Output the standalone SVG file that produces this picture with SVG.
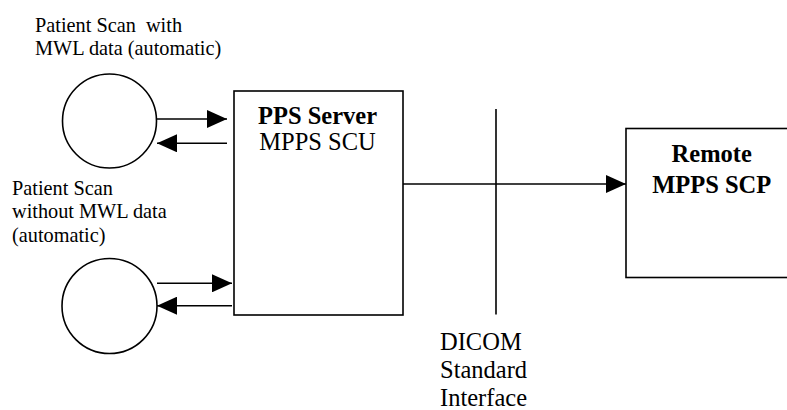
<svg xmlns="http://www.w3.org/2000/svg" width="787" height="410" viewBox="0 0 787 410">
<defs>
<style>
text{font-family:"Liberation Serif","DejaVu Serif","Times New Roman",serif;fill:#000}
.s{font-size:20.3px}
.m{font-size:24.5px}
.b{font-weight:bold}
.shape{fill:#fff;stroke:#000;stroke-width:1.6}
.ln{fill:none;stroke:#000;stroke-width:1.6}
</style>
<marker id="ah" markerUnits="userSpaceOnUse" markerWidth="20" markerHeight="18" refX="20" refY="9" orient="auto">
<path d="M0,0 L20,9 L0,18 z" fill="#000"/>
</marker>
</defs>
<rect width="787" height="410" fill="#fff"/>
<g id="scan-with-mwl">
<circle class="shape" cx="109.5" cy="121" r="47"/>
<text class="s" x="35" y="31.7" xml:space="preserve">Patient Scan  with</text>
<text class="s" x="35" y="55">MWL data (automatic)</text>
</g>
<g id="scan-without-mwl">
<circle class="shape" cx="109.5" cy="306" r="47.5"/>
<text class="s" x="12" y="195">Patient Scan</text>
<text class="s" x="12" y="218.3">without MWL data</text>
<text class="s" x="12" y="241.7">(automatic)</text>
</g>
<g id="pps-server">
<rect class="shape" x="234" y="91" width="169" height="224"/>
<text class="m b" x="317.5" y="124.3" text-anchor="middle">PPS Server</text>
<text class="m" x="317.5" y="150" text-anchor="middle">MPPS SCU</text>
</g>
<g id="remote-scp">
<rect class="shape" x="626" y="128.5" width="175" height="149"/>
<text class="m b" x="711.7" y="162.3" text-anchor="middle">Remote</text>
<text class="m b" x="711.7" y="193.3" text-anchor="middle">MPPS SCP</text>
</g>
<g id="dicom-interface">
<line class="ln" x1="496" y1="109" x2="496" y2="314.5"/>
<text class="m" x="440" y="349.5">DICOM</text>
<text class="m" x="440" y="377.5">Standard</text>
<text class="m" x="440" y="405.5">Interface</text>
</g>
<g id="connectors">
<line class="ln" x1="157" y1="119" x2="227" y2="119" marker-end="url(#ah)"/>
<line class="ln" x1="227" y1="143.3" x2="157" y2="143.3" marker-end="url(#ah)"/>
<line class="ln" x1="157" y1="283.3" x2="232" y2="283.3" marker-end="url(#ah)"/>
<line class="ln" x1="232" y1="305.7" x2="157" y2="305.7" marker-end="url(#ah)"/>
<line class="ln" x1="403" y1="184" x2="626" y2="184" marker-end="url(#ah)"/>
</g>
</svg>
